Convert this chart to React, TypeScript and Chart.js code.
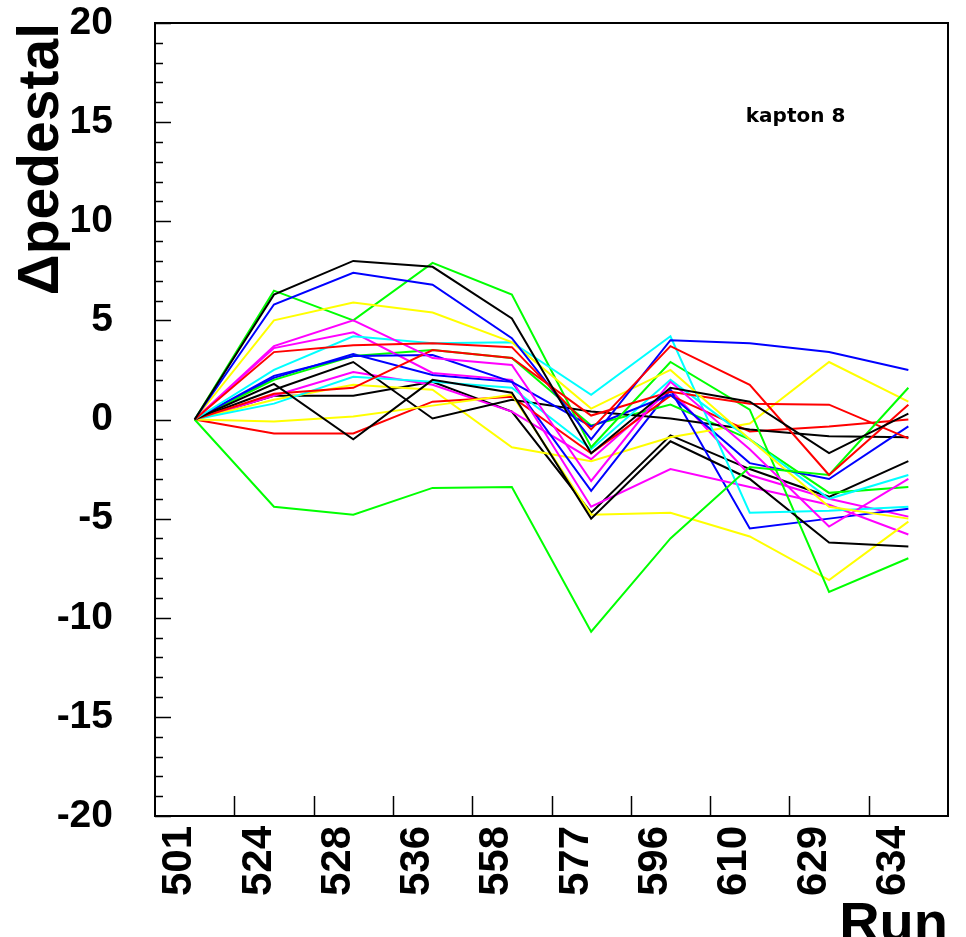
import React, { useEffect, useRef } from "react";
import { Chart, registerables } from "chart.js";

Chart.register(...registerables);

const runs = ["501", "524", "528", "536", "558", "577", "596", "610", "629", "634"];

const black1 = [0, 6.3, 8.0, 7.7, 5.1, -1.7, 1.6, 0.9, -1.7, 0.3];
const black2 = [0, 1.8, -1.0, 2.0, 1.35, -5.0, -1.1, -3.0, -6.2, -6.4];
const black3 = [0, 1.5, 2.9, 0.05, 1.0, 0.4, 0.05, -0.5, -0.85, -0.9];
const black4 = [0, 1.2, 1.2, 1.9, 0.4, -4.7, -0.8, -2.5, -3.9, -2.1];

const blue1 = [0, 5.8, 7.4, 6.8, 4.1, -1.0, 4.0, 3.85, 3.4, 2.5];
const blue2 = [0, 2.2, 3.2, 3.25, 1.9, -0.35, 1.25, -2.2, -3.0, -0.35];
const blue3 = [0, 2.1, 3.3, 2.25, 1.9, -3.6, 1.5, -5.5, -5.0, -4.5];

const green1 = [0, -4.4, -4.8, -3.45, -3.4, -10.7, -6.0, -2.4, -2.8, 1.6];
const green2 = [0, 6.5, 5.0, 7.9, 6.3, -1.4, 2.9, 0.5, -8.7, -7.0];
const green3 = [0, 2.0, 3.2, 3.5, 3.1, -0.3, 0.75, -1.0, -3.7, -3.4];

const yellow1 = [0, 5.0, 5.9, 5.4, 3.9, 0.55, 2.5, -1.0, -4.4, -5.0];
const yellow2 = [0, -0.1, 0.15, 0.7, 1.25, -4.8, -4.7, -5.9, -8.1, -5.15];
const yellow3 = [0, 1.0, 1.75, 1.5, -1.4, -2.1, -0.9, -0.2, 2.9, 0.9];

const red1 = [0, 3.4, 3.75, 3.85, 3.65, -0.5, 3.7, 1.75, -2.8, 0.75];
const red2 = [0, 1.3, 1.6, 3.5, 3.1, 0.2, 1.4, 0.8, 0.75, -0.95];
const red3 = [0, -0.7, -0.7, 0.9, 1.15, -1.7, 1.2, -0.6, -0.35, 0];

const magenta1 = [0, 3.7, 5.0, 3.1, 2.75, -3.1, 1.9, -1.5, -5.4, -3.0];
const magenta2 = [0, 3.6, 4.4, 2.35, 2.0, -4.4, -2.5, -3.4, -4.3, -5.8];
const magenta3 = [0, 1.2, 2.4, 1.75, 0.4, -2.0, 1.5, -2.8, -4.0, -4.9];

const cyan1 = [0, 2.5, 4.2, 3.85, 3.9, 1.25, 4.2, -4.7, -4.6, -4.4];
const cyan2 = [0, 0.8, 2.15, 1.9, 1.6, -1.5, 2.0, -1.0, -4.0, -2.8];

const seriesList: [number[], string][] = [
  [black1, "#000000"], [red1, "#ff0000"], [green1, "#00ff00"], [blue1, "#0000ff"],
  [yellow1, "#ffff00"], [magenta1, "#ff00ff"], [cyan1, "#00ffff"],
  [black2, "#000000"], [red2, "#ff0000"], [green2, "#00ff00"], [blue2, "#0000ff"],
  [yellow2, "#ffff00"], [magenta2, "#ff00ff"], [cyan2, "#00ffff"],
  [black3, "#000000"], [red3, "#ff0000"], [green3, "#00ff00"], [blue3, "#0000ff"],
  [yellow3, "#ffff00"], [magenta3, "#ff00ff"], [black4, "#000000"],
];

const Y_MIN = -20;
const Y_MAX = 20;
const annotationText = "kapton 8";

const CANVAS_W = 966;
const CANVAS_H = 970;

const framePlugin = {
  id: "rootFrame",
  afterDatasetsDraw(chart: any) {
    const { ctx, chartArea, scales } = chart;
    const x = scales.x;
    const y = scales.y;
    ctx.save();
    ctx.strokeStyle = "#000";
    ctx.lineWidth = 1.5;
    for (let v = Y_MIN; v <= Y_MAX; v += 1) {
      const py = Math.round(y.getPixelForValue(v)) + 0.5;
      const len = v % 5 === 0 ? 16 : 8;
      ctx.beginPath();
      ctx.moveTo(chartArea.left, py);
      ctx.lineTo(chartArea.left + len, py);
      ctx.stroke();
    }
    for (let i = 0; i < runs.length - 1; i++) {
      const px = Math.round(x.getPixelForValue(i + 0.5)) + 0.5;
      ctx.beginPath();
      ctx.moveTo(px, chartArea.bottom);
      ctx.lineTo(px, chartArea.bottom - 20);
      ctx.stroke();
    }
    ctx.lineWidth = 2;
    ctx.strokeRect(chartArea.left, chartArea.top, chartArea.right - chartArea.left, chartArea.bottom - chartArea.top);
    ctx.fillStyle = "#000";
    ctx.font = "bold 20px 'DejaVu Sans'";
    ctx.textBaseline = "middle";
    ctx.textAlign = "left";
    const w = chartArea.right - chartArea.left;
    const h = chartArea.bottom - chartArea.top;
    ctx.fillText(annotationText, chartArea.left + w * 0.745, chartArea.top + h * 0.118);
    ctx.restore();
  },
};

export default function App() {
  const ref = useRef<HTMLCanvasElement | null>(null);
  useEffect(() => {
    if (!ref.current) return;
    const chart = new Chart(ref.current, {
      type: "line",
      data: {
        labels: runs,
        datasets: seriesList.map(([d, c], i) => ({
          label: "s" + i,
          data: d,
          borderColor: c,
          backgroundColor: c,
          borderWidth: 2,
          pointRadius: 0,
          tension: 0,
          fill: false,
        })),
      },
      options: {
        animation: false,
        responsive: false,
        devicePixelRatio: 1,
        layout: { padding: { top: 23, right: 18, left: 0, bottom: 0 } },
        plugins: { legend: { display: false }, tooltip: { enabled: false } },
        scales: {
          x: {
            type: "category",
            offset: true,
            grid: { display: false, drawTicks: false, tickLength: 0 },
            border: { display: false },
            ticks: {
              autoSkip: false,
              minRotation: 90,
              maxRotation: 90,
              labelOffset: -15,
              padding: 10,
              color: "#000",
              font: { family: "'Liberation Sans', Arial, sans-serif", weight: "bold", size: 42 },
            },
            title: {
              display: true,
              text: "Run",
              align: "end",
              color: "#000",
              padding: { top: 0, bottom: 11 },
              font: { family: "'Liberation Sans', Arial, sans-serif", weight: "bold", size: 56 },
            },
            afterFit(scale: any) {
              scale.height = CANVAS_H - 816;
              scale.paddingLeft = 0;
              scale.paddingRight = 0;
            },
          },
          y: {
            min: Y_MIN,
            max: Y_MAX,
            grid: { display: false, drawTicks: false, tickLength: 0 },
            border: { display: false },
            ticks: {
              stepSize: 5,
              padding: 42,
              color: "#000",
              font: { family: "'Liberation Sans', Arial, sans-serif", weight: "bold", size: 39 },
            },
            title: {
              display: true,
              text: "Δpedestal",
              align: "end",
              color: "#000",
              padding: { top: 8, bottom: 0 },
              font: { family: "'Liberation Sans', Arial, sans-serif", weight: "bold", size: 57 },
            },
            afterFit(scale: any) {
              scale.width = 155;
              scale.paddingTop = 0;
              scale.paddingBottom = 0;
            },
          },
        },
      },
      plugins: [framePlugin],
    } as any);
    return () => chart.destroy();
  }, []);
  return (
    <div style={{ position: "fixed", left: 0, top: 0, width: 966, height: 937, overflow: "hidden", background: "#fff" }}>
      <canvas ref={ref} width={CANVAS_W} height={CANVAS_H} style={{ display: "block" }} />
    </div>
  );
}
